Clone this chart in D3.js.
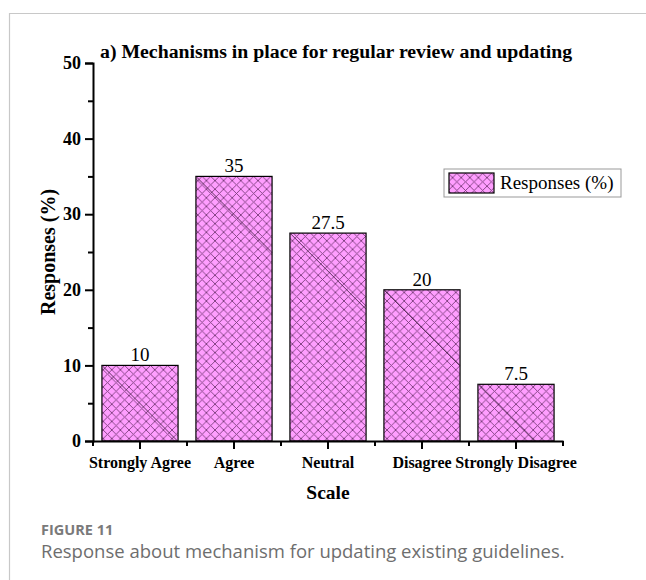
<!DOCTYPE html>
<html>
<head>
<meta charset="utf-8">
<script src="https://cdn.jsdelivr.net/npm/d3@7"></script>
<style>
    body { margin: 0; background: #fff; }
    svg text { font-family: 'Liberation Serif', 'Times New Roman', serif; }
    svg text.caption { font-family: 'Open Sans', sans-serif; }
</style>
</head>
<body>
<div id="chart"></div>
<script>
// chart data
let categories = ["Strongly Agree", "Agree", "Neutral", "Disagree", "Strongly Disagree"];
let responses = [10, 35, 27.5, 20, 7.5];
let yTicks = [0, 10, 20, 30, 40, 50];

let width = 646;
let height = 580;

let svg = d3.select("#chart")
    .append("svg")
    .attr("width", width)
    .attr("height", height);

// gray frame on top and left
svg.append("line").attr("x1", 9).attr("x2", width).attr("y1", 13.5).attr("y2", 13.5)
    .attr("stroke", "#c8c8c8").attr("stroke-width", 1.2);
svg.append("line").attr("x1", 9.5).attr("x2", 9.5).attr("y1", 13).attr("y2", height)
    .attr("stroke", "#c8c8c8").attr("stroke-width", 1.2);

// hatch pattern
let defs = svg.append("defs");
let pat = defs.append("pattern")
    .attr("id", "hatch")
    .attr("patternUnits", "userSpaceOnUse")
    .attr("width", 8.6)
    .attr("height", 8.6);
pat.append("rect").attr("width", 8.6).attr("height", 8.6).attr("fill", "#ff9eff");
pat.append("path").attr("d", "M0,0L8.6,8.6M8.6,0L0,8.6")
    .attr("stroke", "#7a3d7a").attr("stroke-width", 0.9);

let margin = {left: 93, right: 83, top: 63, bottom: 139};

let x = d3.scaleBand()
    .domain(categories)
    .range([margin.left, width - margin.right])
    .paddingInner(0.19)
    .paddingOuter(0.095);

let y = d3.scaleLinear()
    .domain([0, 50])
    .range([height - margin.bottom, margin.top]);

// bars
let bars = svg.selectAll(".bar")
    .data(responses)
    .enter()
    .append("g");

bars.append("rect")
    .attr("x", (d, i) => x(categories[i]))
    .attr("y", d => y(d))
    .attr("width", x.bandwidth())
    .attr("height", d => y(0) - y(d))
    .attr("fill", "url(#hatch)")
    .attr("stroke", "#000")
    .attr("stroke-width", 1.2);

// thin diagonal artefact line in each bar
bars.append("line")
    .attr("x1", (d, i) => x(categories[i]))
    .attr("y1", d => y(d))
    .attr("x2", (d, i) => x(categories[i]) + Math.min(x.bandwidth(), y(0) - y(d)))
    .attr("y2", d => y(d) + Math.min(x.bandwidth(), y(0) - y(d)))
    .attr("stroke", "#3a1a3a")
    .attr("stroke-width", 0.8);

// value labels
svg.selectAll(".val")
    .data(responses)
    .enter()
    .append("text")
    .attr("x", (d, i) => x(categories[i]) + x.bandwidth() / 2)
    .attr("y", d => y(d) - 4)
    .attr("text-anchor", "middle")
    .attr("font-size", 19)
    .text(d => d);

// y axis
let yAxis = d3.axisLeft(y).tickValues(yTicks).tickSize(8).tickPadding(4);
let gy = svg.append("g")
    .attr("transform", "translate(" + margin.left + ",0)")
    .call(yAxis);
gy.attr("font-family", null);
gy.select(".domain").attr("stroke-width", 2);
gy.selectAll(".tick line").attr("stroke-width", 2);
gy.selectAll("text").attr("font-size", 18).attr("font-weight", "bold");

// y minor ticks
let yMinor = d3.axisLeft(y).tickValues([5, 15, 25, 35, 45]).tickSize(5).tickFormat("");
let gym = svg.append("g")
    .attr("transform", "translate(" + margin.left + ",0)")
    .call(yMinor);
gym.select(".domain").remove();
gym.selectAll(".tick line").attr("stroke-width", 2);

// x axis
let xAxis = d3.axisBottom(x).tickSize(8).tickPadding(8).tickSizeOuter(0);
let gx = svg.append("g")
    .attr("transform", "translate(0," + y(0) + ")")
    .call(xAxis);
gx.attr("font-family", null);
gx.select(".domain").attr("stroke-width", 2);
gx.selectAll(".tick line").attr("stroke-width", 2);
gx.selectAll("text").attr("font-size", 16).attr("font-weight", "bold");

// x minor ticks between categories
let step = x.step();
let xMinorPos = d3.range(categories.length + 1).map(i => margin.left + i * step);
svg.selectAll(".xminor")
    .data(xMinorPos)
    .enter()
    .append("line")
    .attr("x1", d => d)
    .attr("x2", d => d)
    .attr("y1", y(0))
    .attr("y2", y(0) + 5)
    .attr("stroke", "#000")
    .attr("stroke-width", 2);

// axis titles
svg.append("text")
    .attr("x", margin.left + (width - margin.right - margin.left) / 2)
    .attr("y", 499)
    .attr("text-anchor", "middle")
    .attr("font-size", 19.5)
    .attr("font-weight", "bold")
    .text("Scale");

svg.append("text")
    .attr("transform", "translate(55," + y(25) + ") rotate(-90)")
    .attr("text-anchor", "middle")
    .attr("font-size", 20)
    .attr("font-weight", "bold")
    .text("Responses (%)");

// chart title
svg.append("text")
    .attr("x", 100)
    .attr("y", 58)
    .attr("font-size", 19.8)
    .attr("font-weight", "bold")
    .text("a) Mechanisms in place for regular review and updating");

// legend
let legend = svg.append("g").attr("transform", "translate(444,169)");
legend.append("rect")
    .attr("width", 177).attr("height", 28)
    .attr("fill", "#fff").attr("stroke", "#999").attr("stroke-width", 1);
legend.append("rect")
    .attr("x", 5).attr("y", 4).attr("width", 45).attr("height", 20)
    .attr("fill", "url(#hatch)").attr("stroke", "#000").attr("stroke-width", 1.2);
legend.append("text")
    .attr("x", 56).attr("y", 20)
    .attr("font-size", 19)
    .text("Responses (%)");

// figure caption
svg.append("text")
    .attr("class", "caption")
    .attr("x", 41).attr("y", 535)
    .attr("font-size", 14.5)
    .attr("font-weight", "bold")
    .attr("fill", "#7a7a7a")
    .text("FIGURE 11");
svg.append("text")
    .attr("class", "caption")
    .attr("x", 41).attr("y", 558)
    .attr("font-size", 18.5)
    .attr("fill", "#6e6e6e")
    .text("Response about mechanism for updating existing guidelines.");
</script>
</body>
</html>
